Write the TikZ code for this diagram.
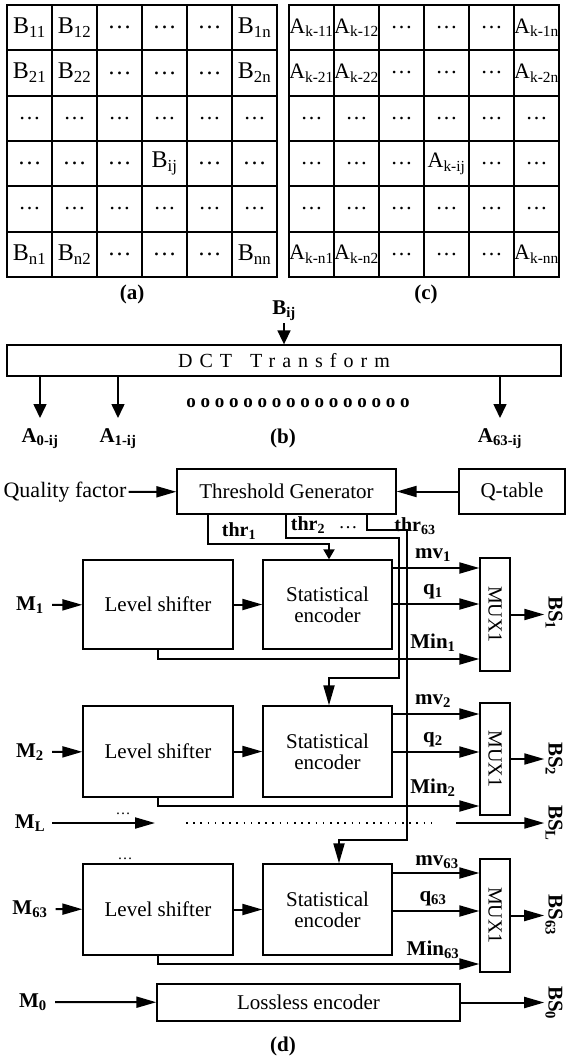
\documentclass[tikz,border=0pt]{standalone}
\usepackage{graphicx}
\usepackage{fontspec}
\setmainfont{Liberation Serif}
\newfontfamily\spacedfont[LetterSpace=35]{Liberation Serif}
\usetikzlibrary{arrows.meta}
\newcommand{\myfs}[1]{\fontsize{#1}{#1}\selectfont}
\tikzset{
  gcell/.style={draw, line width=2pt, minimum width=45pt, minimum height=45.33pt, inner sep=0pt, font=\myfs{22}},
  gcellB/.style={gcell, font=\myfs{24}},
  blk/.style={draw, line width=1.3pt, inner sep=0pt, font=\myfs{21}, align=center},
  lbl/.style={font=\bfseries\myfs{21}, inner sep=2pt},
  thrlbl/.style={font=\bfseries\myfs{20}, inner sep=2pt},
  txt/.style={font=\myfs{22}, inner sep=2pt},
  conn/.style={line width=2pt},
  arr/.style={conn, -{Triangle[length=20pt,width=11pt]}},
  arrS/.style={line width=1.6pt, -{Triangle[length=14pt,width=13pt]}},
  arrT/.style={conn, -{Triangle[length=10pt,width=11pt]}},
  dotline/.style={line width=1.5pt, dash pattern=on 1.5pt off 5.7pt},
  smalldots/.style={font=\myfs{15}, inner sep=0pt}
}
\begin{document}
\begin{tikzpicture}[x=1pt,y=-1pt]
\useasboundingbox (0,0) rectangle (568,1059);

% ---------- grid (a) ----------
\foreach \t [count=\c] in {B\textsubscript{11},B\textsubscript{12},\ldots,\ldots,\ldots,B\textsubscript{1n}}
  \node[gcellB] (a1\c) at ({7+45*(\c-0.5)},27.67) {\t};
\foreach \t [count=\c] in {B\textsubscript{21},B\textsubscript{22},\ldots,\ldots,\ldots,B\textsubscript{2n}}
  \node[gcellB] (a2\c) at ({7+45*(\c-0.5)},73) {\t};
\foreach \c in {1,2,3,4,5,6}
  \node[gcell] (a3\c) at ({7+45*(\c-0.5)},118.33) {\ldots};
\foreach \t [count=\c] in {\ldots,\ldots,\ldots,B\textsubscript{ij},\ldots,\ldots}
  \node[gcellB] (a4\c) at ({7+45*(\c-0.5)},163.67) {\t};
\foreach \c in {1,2,3,4,5,6}
  \node[gcell] (a5\c) at ({7+45*(\c-0.5)},209) {\ldots};
\foreach \t [count=\c] in {B\textsubscript{n1},B\textsubscript{n2},\ldots,\ldots,\ldots,B\textsubscript{nn}}
  \node[gcellB] (a6\c) at ({7+45*(\c-0.5)},254.33) {\t};
\node[lbl] (la) at (132,294) {(a)};

% ---------- grid (c) ----------
\foreach \t [count=\c] in {A\textsubscript{k-11},A\textsubscript{k-12},\ldots,\ldots,\ldots,A\textsubscript{k-1n}}
  \node[gcell] (c1\c) at ({289+45*(\c-0.5)},27.67) {\t};
\foreach \t [count=\c] in {A\textsubscript{k-21},A\textsubscript{k-22},\ldots,\ldots,\ldots,A\textsubscript{k-2n}}
  \node[gcell] (c2\c) at ({289+45*(\c-0.5)},73) {\t};
\foreach \c in {1,2,3,4,5,6}
  \node[gcell] (c3\c) at ({289+45*(\c-0.5)},118.33) {\ldots};
\foreach \t [count=\c] in {\ldots,\ldots,\ldots,A\textsubscript{k-ij},\ldots,\ldots}
  \node[gcell] (c4\c) at ({289+45*(\c-0.5)},163.67) {\t};
\foreach \c in {1,2,3,4,5,6}
  \node[gcell] (c5\c) at ({289+45*(\c-0.5)},209) {\ldots};
\foreach \t [count=\c] in {A\textsubscript{k-n1},A\textsubscript{k-n2},\ldots,\ldots,\ldots,A\textsubscript{k-nn}}
  \node[gcell] (c6\c) at ({289+45*(\c-0.5)},254.33) {\t};
\node[lbl] (lc) at (426,294) {(c)};

% ---------- (b) DCT ----------
\node[lbl] (bij) at (284,311) {B\textsubscript{ij}};
\node[draw, line width=1.3pt, minimum width=554pt, minimum height=31pt, inner sep=0pt] (dct) at (284,360.5)
  {\spacedfont\myfs{20}DCT\hspace{18pt}Transform};
\draw[arrS] (bij) -- (dct);
\node[lbl, anchor=north] (a0) at (40,426) {A\textsubscript{0-ij}};
\node[lbl, anchor=north] (a1) at (118,426) {A\textsubscript{1-ij}};
\node[lbl, anchor=north] (a63) at (500,426) {A\textsubscript{63-ij}};
\draw[arrS, shorten >=8pt] (dct.south -| a0) -- (a0.north);
\draw[arrS, shorten >=8pt] (dct.south -| a1) -- (a1.north);
\draw[arrS, shorten >=8pt] (dct.south -| a63) -- (a63.north);
\node[font=\bfseries\myfs{19}] (oo) at (298,403) {o o o o o o o o o o o o o o o o};
\node[lbl] (lb) at (283,438) {(b)};

% ---------- (d) ----------
\node[txt] (qf) at (65,492) {Quality factor};
\node[blk, minimum width=219pt, minimum height=45pt] (tg) at (286.5,491.5) {Threshold Generator};
\node[blk, minimum width=106pt, minimum height=45pt] (qt) at (512,491.5) {Q-table};
\draw[arr] (qf) -- (tg);
\draw[arr] (qt) -- (tg);

% rows
\node[blk, minimum width=150pt, minimum height=89pt] (ls1) at (158,604.5) {Level shifter};
\node[blk, minimum width=129pt, minimum height=89pt] (se1) at (327.5,604.5) {Statistical\\encoder};
\node[blk, minimum width=150pt, minimum height=91pt] (ls2) at (158,751.5) {Level shifter};
\node[blk, minimum width=129pt, minimum height=91pt] (se2) at (327.5,751.5) {Statistical\\encoder};
\node[blk, minimum width=150pt, minimum height=91pt] (ls63) at (158,909.5) {Level shifter};
\node[blk, minimum width=129pt, minimum height=91pt] (se63) at (327.5,909.5) {Statistical\\encoder};

\node[blk, font=\myfs{20}, minimum width=30pt, minimum height=113pt] (mux1) at (495,614.5) {\rotatebox{-90}{MUX1}};
\node[blk, font=\myfs{20}, minimum width=30pt, minimum height=112pt] (mux2) at (495,759) {\rotatebox{-90}{MUX1}};
\node[blk, font=\myfs{20}, minimum width=30pt, minimum height=113pt] (mux63) at (495,915.5) {\rotatebox{-90}{MUX1}};

\node[blk, minimum width=303pt, minimum height=37pt] (le) at (308.5,1002.5) {Lossless encoder};

% input labels
\node[lbl] (m1) at (30,605) {M\textsubscript{1}};
\node[lbl] (m2) at (30,752) {M\textsubscript{2}};
\node[lbl] (ml) at (30,823) {M\textsubscript{L}};
\node[lbl] (m63) at (30,909) {M\textsubscript{63}};
\node[lbl] (m0) at (33,1002) {M\textsubscript{0}};

\draw[arr, shorten <=6pt] (m1) -- (ls1);
\draw[arr, shorten <=6pt] (m2) -- (ls2);
\draw[arr, shorten <=6pt] (m63) -- (ls63);
\draw[arr, shorten <=6pt] (m0) -- (le);
\draw[arr] (ls1) -- (se1);
\draw[arr] (ls2) -- (se2);
\draw[arr] (ls63) -- (se63);

% M_L row
\coordinate (mlend) at (155,823);
\draw[arr, shorten <=5pt] (ml) -- (mlend);
\node[smalldots] (mldots) at (123,814) {\ldots};
\node[smalldots] (lsdots) at (125,859) {\ldots};
\coordinate (dotA) at (186,823);
\coordinate (dotB) at (437,823);
\draw[dotline] (dotA) -- (dotB);

% output labels
\node[lbl, inner sep=1pt] (bs1) at (554,613) {\rotatebox{-90}{BS\textsubscript{1}}};
\node[lbl, inner sep=1pt] (bs2) at (554,759) {\rotatebox{-90}{BS\textsubscript{2}}};
\node[lbl, inner sep=1pt] (bsl) at (554,823) {\rotatebox{-90}{BS\textsubscript{L}}};
\node[lbl, inner sep=1pt] (bs63) at (554,915) {\rotatebox{-90}{BS\textsubscript{63}}};
\node[lbl, inner sep=1pt] (bs0) at (554,1003) {\rotatebox{-90}{BS\textsubscript{0}}};

\draw[arr] (mux1.east) -- (mux1.east -| bs1.west);
\draw[arr] (mux2.east) -- (mux2.east -| bs2.west);
\draw[arr] (mux63.east) -- (mux63.east -| bs63.west);
\draw[arr] (le.east) -- (le.east -| bs0.west);
\coordinate (bslstart) at (456,823);
\draw[arr] (bslstart) -- (bslstart -| bsl.west);

% threshold routes
\draw[arrT] (tg.south -| 208,0) -- (208,544) -| (se1.north -| 329,0);
\draw[arr] (tg.south -| 286,0) -- (286,538) -- (399,538) -- (399,678) -| (se2.north -| 329,0);
\draw[arr] (tg.south -| 367,0) -- (367,530) -- (407,530) -- (407,840) -| (se63.north -| 339,0);
\node[thrlbl] (thr1) at (239,531) {thr\textsubscript{1}};
\node[thrlbl] (thr2) at (308,525) {thr\textsubscript{2}};
\node[smalldots, font=\myfs{19}] (thrdots) at (348,528) {\ldots};
\node[thrlbl] (thr63) at (415,526) {thr\textsubscript{63}};

% encoder -> mux
\draw[arr] (se1.east |- 0,568) -- (mux1.west |- 0,568);
\draw[arr] (se1.east |- 0,604) -- (mux1.west |- 0,604);
\draw[arr] (ls1.south) |- (mux1.west |- 0,659);
\draw[arr] (se2.east |- 0,714) -- (mux2.west |- 0,714);
\draw[arr] (se2.east |- 0,752) -- (mux2.west |- 0,752);
\draw[arr] (ls2.south) |- (mux2.west |- 0,806);
\draw[arr] (se63.east |- 0,873) -- (mux63.west |- 0,873);
\draw[arr] (se63.east |- 0,911) -- (mux63.west |- 0,911);
\draw[arr] (ls63.south) |- (mux63.west |- 0,964);

\node[lbl] (mv1) at (433,555) {mv\textsubscript{1}};
\node[lbl] (q1) at (433,592) {q\textsubscript{1}};
\node[lbl] (min1) at (433,643) {Min\textsubscript{1}};
\node[lbl] (mv2) at (433,701) {mv\textsubscript{2}};
\node[lbl] (q2) at (433,740) {q\textsubscript{2}};
\node[lbl] (min2) at (433,788) {Min\textsubscript{2}};
\node[lbl] (mv63) at (437,862) {mv\textsubscript{63}};
\node[lbl] (q63) at (433,899) {q\textsubscript{63}};
\node[lbl] (min63) at (433,950) {Min\textsubscript{63}};

\node[lbl] (ld) at (283,1046) {(d)};
\end{tikzpicture}
\end{document}
